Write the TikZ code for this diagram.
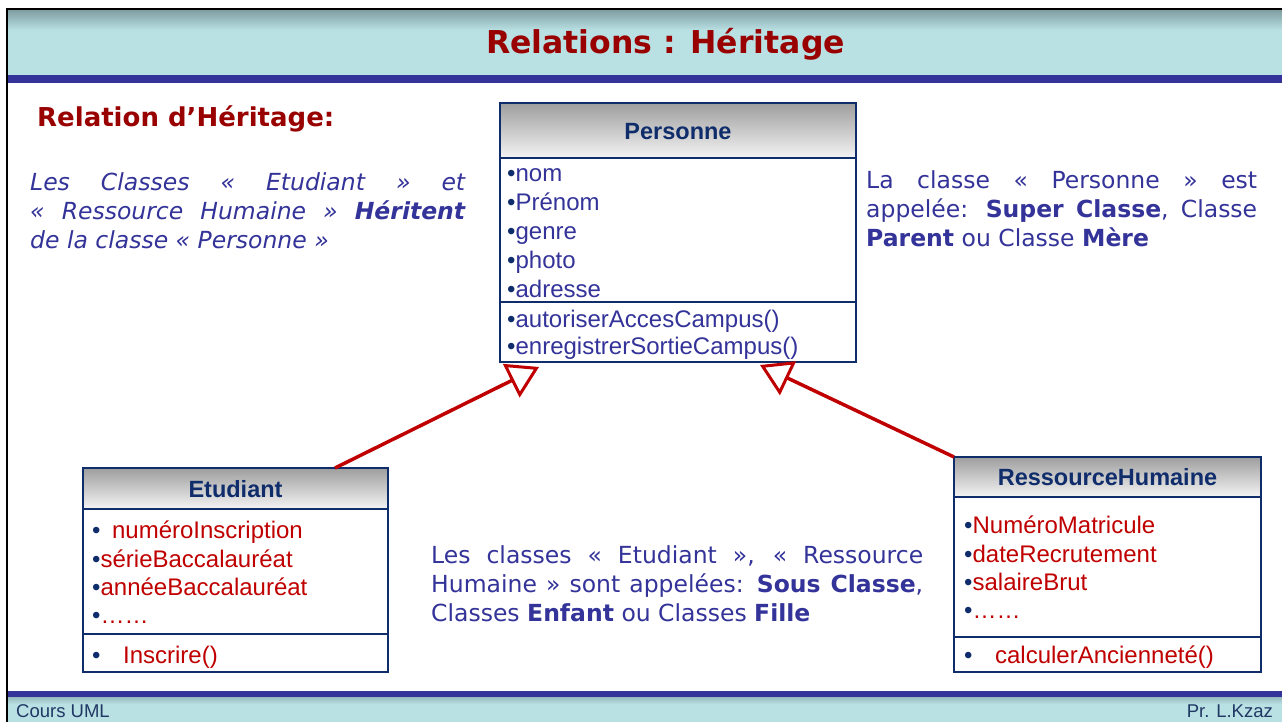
\documentclass[tikz,border=0pt]{standalone}
\usepackage{fontspec}
\setmainfont{DejaVu Sans}[BoldFont={DejaVu Sans Bold},ItalicFont={DejaVu Sans Oblique},BoldItalicFont={DejaVu Sans Bold Oblique}]
\newfontfamily\umlfont{Liberation Sans}
\usetikzlibrary{arrows.meta}
\definecolor{titlered}{HTML}{990000}
\definecolor{bandblue}{HTML}{333399}
\definecolor{lightblue}{HTML}{B9E0E3}
\definecolor{shadeblue}{HTML}{7F9EA1}
\definecolor{txtblue}{HTML}{333399}
\definecolor{navy}{HTML}{0F2C6B}
\definecolor{footnavy}{HTML}{203864}
\definecolor{attrred}{HTML}{C00000}
\definecolor{headgray}{HTML}{9E9E9E}
\definecolor{headlight}{HTML}{F4F4F4}
\newcommand{\bul}{{\color{navy}\textbullet}}
\newcommand{\bodyfs}{\fontsize{23.5}{29}\selectfont}
\begin{document}
\begin{tikzpicture}[x=1pt,y=-1pt,
  umlbox/.style={draw=navy, line width=2.5pt, fill=white, inner sep=0pt, outer sep=0pt, anchor=north west},
  umlhead/.style={draw=navy, line width=2.5pt, top color=headgray, bottom color=headlight, inner sep=0pt, outer sep=0pt, anchor=north west},
  divider/.style={draw=navy, line width=2.5pt},
  headtext/.style={anchor=base, inner sep=0pt, text=navy, font=\umlfont\bfseries\fontsize{23.5}{28}\selectfont},
  attrblue/.style={anchor=base west, inner sep=0pt, text=txtblue, font=\umlfont\fontsize{24}{28}\selectfont},
  attrred/.style={anchor=base west, inner sep=0pt, text=attrred, font=\umlfont\fontsize{24}{28}\selectfont},
  bodytext/.style={anchor=base west, inner sep=0pt, text=txtblue, font=\bodyfs},
  inh/.style={draw=attrred, line width=3.5pt, -{Triangle[open, length=31pt, width=37pt, line width=3pt]}},
  foot/.style={inner sep=0pt, text=footnavy, font=\umlfont\fontsize{18.5}{22}\selectfont}]
\useasboundingbox (0,0) rectangle (1282,722);
\fill[white] (0,0) rectangle (1282,722);
% title bar
\fill[lightblue] (8,10) rectangle (1282,75);
\shade[top color=shadeblue, bottom color=lightblue] (8,10) rectangle (1282,30);
\fill[bandblue] (8,75) rectangle (1282,83);
% footer
\fill[bandblue] (8,691) rectangle (1282,697);
\fill[lightblue] (8,697) rectangle (1282,722);
\shade[top color=shadeblue!60!lightblue, bottom color=lightblue] (8,697) rectangle (1282,704);
% frame
\draw[black, line width=2.5pt] (7,722) -- (7,9.25) -- (1282,9.25);

\node[anchor=base, inner sep=0pt, text=titlered, font=\bfseries\fontsize{31.5}{36}\selectfont] (title) at (665.5,54) {Relations : Héritage};
\node[foot, anchor=base west] (footL) at (16,717) {Cours UML};
\node[foot, anchor=base east] (footR) at (1273,717) {Pr. L.Kzaz};

% heading and paragraphs
\node[anchor=base west, inner sep=0pt, text=titlered, font=\bfseries\fontsize{26}{30}\selectfont] (heading) at (37,127) {Relation d’Héritage:};

\node[bodytext, font=\bodyfs\itshape] (lp1) at (30,190.5) {\makebox[435pt][s]{Les Classes « Etudiant » et}};
\node[bodytext, font=\bodyfs\itshape] (lp2) at (30,219.5) {\makebox[435pt][s]{« Ressource Humaine » \textbf{Héritent}}};
\node[bodytext, font=\bodyfs\itshape] (lp3) at (30,248.5) {de la classe « Personne »};

\node[bodytext] (rp1) at (866,189) {\makebox[391pt][s]{La classe « Personne » est}};
\node[bodytext] (rp2) at (866,218) {\makebox[391pt][s]{appelée: \textbf{Super Classe}, Classe}};
\node[bodytext] (rp3) at (866,247) {\textbf{Parent} ou Classe \textbf{Mère}};

\node[bodytext] (mp1) at (431,563) {\makebox[492pt][s]{Les classes « Etudiant », « Ressource}};
\node[bodytext] (mp2) at (431,592) {\makebox[492pt][s]{Humaine » sont appelées: \textbf{Sous Classe},}};
\node[bodytext] (mp3) at (431,621) {Classes \textbf{Enfant} ou Classes \textbf{Fille}};

% Personne
\node[umlbox, minimum width=356pt, minimum height=259pt] (pers) at (500,103) {};
\node[umlhead, minimum width=356pt, minimum height=55pt] (persH) at (500,103) {};
\draw[divider] (500,302) -- (856,302);
\node[headtext] (persT) at (678,140) {Personne};
\node[attrblue] (pa1) at (507,182) {\bul nom};
\node[attrblue] (pa2) at (507,211) {\bul Prénom};
\node[attrblue] (pa3) at (507,240) {\bul genre};
\node[attrblue] (pa4) at (507,268) {\bul photo};
\node[attrblue] (pa5) at (507,297) {\bul adresse};
\node[attrblue] (pm1) at (507,327) {\bul autoriserAccesCampus()};
\node[attrblue] (pm2) at (507,354) {\bul enregistrerSortieCampus()};

% Etudiant
\node[umlbox, minimum width=305pt, minimum height=204pt] (etu) at (83,468) {};
\node[umlhead, minimum width=305pt, minimum height=41pt] (etuH) at (83,468) {};
\draw[divider] (83,634) -- (388,634);
\node[headtext] (etuT) at (235.5,497) {Etudiant};
\node[attrred] (ea1) at (92,538) {\bul\hspace{11.5pt}numéroInscription};
\node[attrred] (ea2) at (92,567) {\bul sérieBaccalauréat};
\node[attrred] (ea3) at (92,595) {\bul annéeBaccalauréat};
\node[attrred] (ea4) at (92,623) {\bul ……};
\node[attrred] (em1) at (92,663) {\bul\hspace{22.5pt}Inscrire()};

% RessourceHumaine
\node[umlbox, minimum width=307pt, minimum height=215pt] (rh) at (954,457) {};
\node[umlhead, minimum width=307pt, minimum height=40pt] (rhH) at (954,457) {};
\draw[divider] (954,637) -- (1261,637);
\node[headtext] (rhT) at (1107.5,485) {RessourceHumaine};
\node[attrred] (ra1) at (964,533) {\bul NuméroMatricule};
\node[attrred] (ra2) at (964,562) {\bul dateRecrutement};
\node[attrred] (ra3) at (964,590) {\bul salaireBrut};
\node[attrred] (ra4) at (964,618) {\bul ……};
\node[attrred] (rm1) at (964,663) {\bul\hspace{22.5pt}calculerAncienneté()};

% inheritance
\coordinate (tipL) at (539,367);
\coordinate (tipR) at (760,365);
\draw[inh] ([xshift=-53pt]etu.north east) -- (tipL);
\draw[inh] (rh.north west) -- (tipR);
\end{tikzpicture}
\end{document}
